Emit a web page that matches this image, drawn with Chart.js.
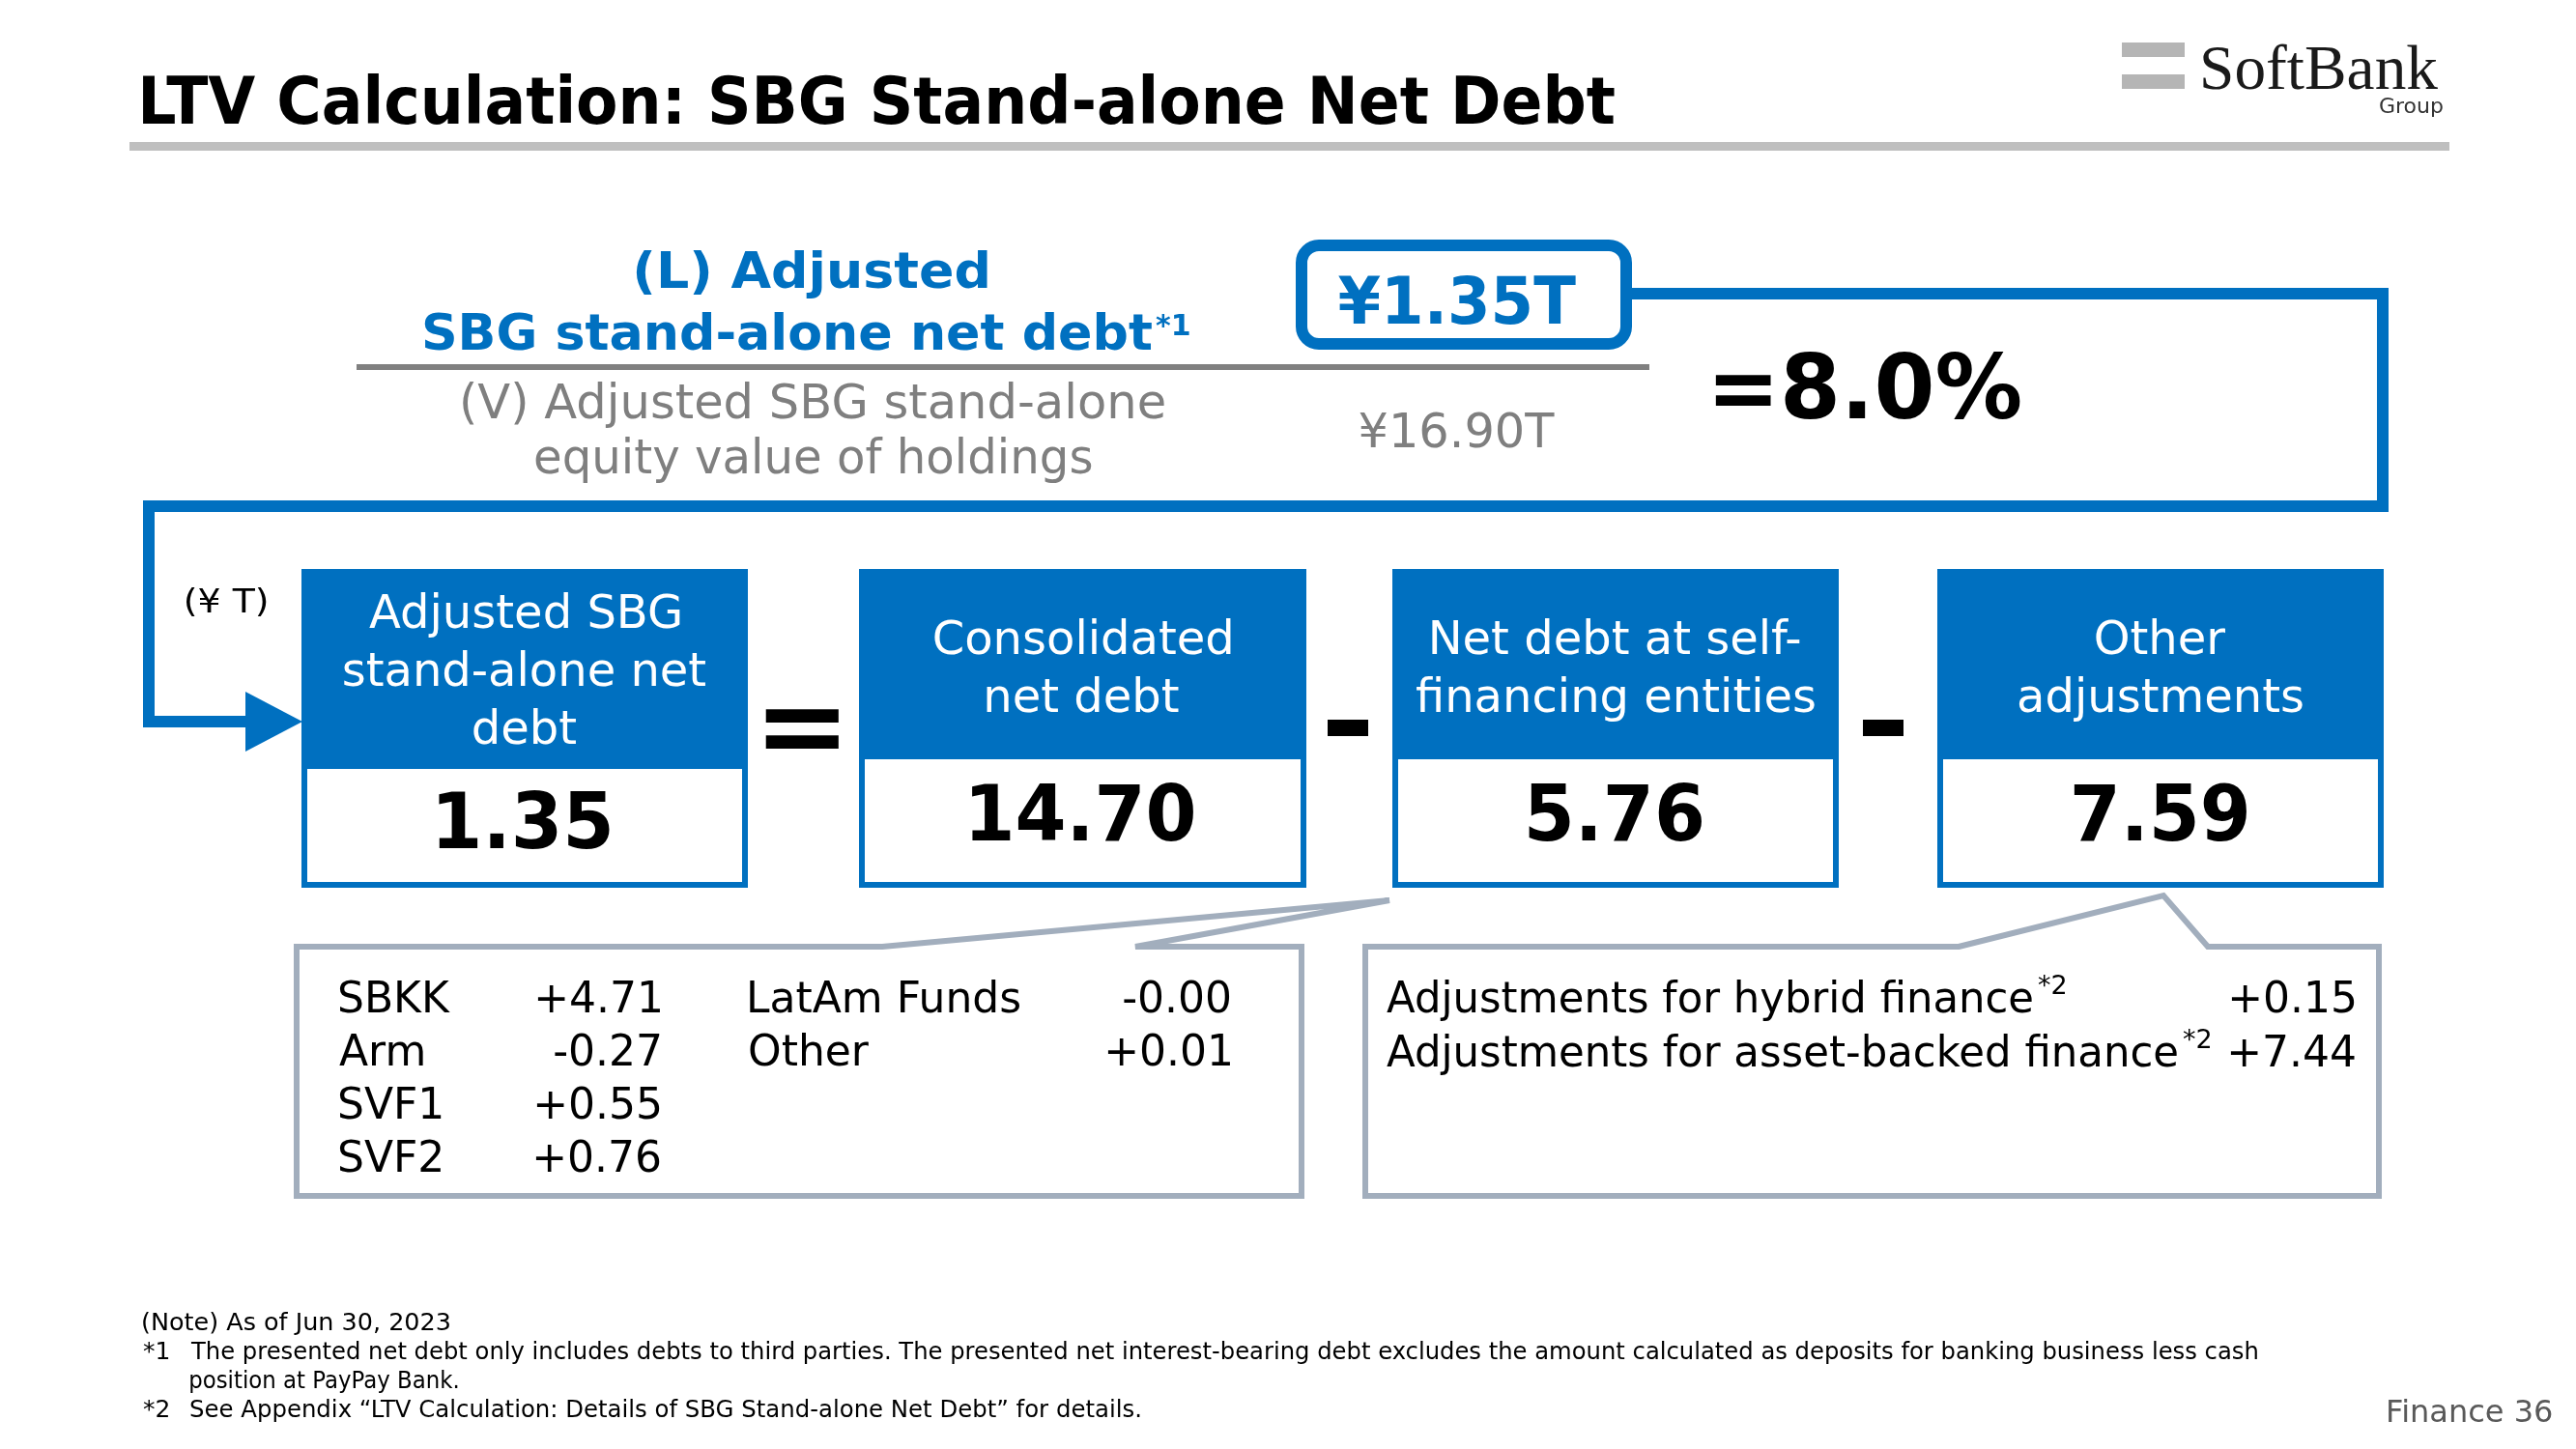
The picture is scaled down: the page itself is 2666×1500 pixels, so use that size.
<!DOCTYPE html>
<html>
<head>
<meta charset="utf-8">
<title>LTV Calculation: SBG Stand-alone Net Debt</title>
<script src="https://cdn.jsdelivr.net/npm/chart.js@4.4.1/dist/chart.umd.min.js"></script>
<style>
  html, body { margin: 0; padding: 0; background: #fff; }
  #wrap { width: 2666px; height: 1500px; }
</style>
</head>
<body>
<div id="wrap"><canvas id="slide"></canvas></div>
<script>
// ---- data ----
const boxTitles = [
  ['Adjusted SBG', 'stand-alone net', 'debt'],
  ['Consolidated', 'net debt'],
  ['Net debt at self-', 'financing entities'],
  ['Other', 'adjustments']
];
const boxValues = [1.35, 14.70, 5.76, 7.59];
const boxOperators = ['=', '-', '-'];

const ltvNumerator = 1.35;    // (L) ¥T
const ltvDenominator = 16.90; // (V) ¥T

const selfFinNames = ['SBKK', 'Arm', 'SVF1', 'SVF2', 'LatAm Funds', 'Other'];
const selfFinValues = [4.71, -0.27, 0.55, 0.76, -0.00, 0.01];

const otherAdjNames = ['Adjustments for hybrid finance', 'Adjustments for asset-backed finance'];
const otherAdjValues = [0.15, 7.44];

const footnotes = [
  '(Note) As of Jun 30, 2023',
  '*1',
  'The presented net debt only includes debts to third parties. The presented net interest-bearing debt excludes the amount calculated as deposits for banking business less cash',
  'position at PayPay Bank.',
  '*2',
  'See Appendix \u201cLTV Calculation: Details of SBG Stand-alone Net Debt\u201d for details.'
];

// ---- look ----
const FONT = '"DejaVu Sans", Verdana, sans-serif';
const BLUE = '#0070C0';
const GREY_TXT = '#7F7F7F';
const CALLOUT = '#A2AEBD';

// slide layout (slide units = page pixels)
const boxX = [[312, 774], [889, 1352], [1441, 1903], [2005, 2467]];
const boxTop = 589, boxBottom = 919;
const headBottom = [796, 786, 786, 786];
const titleBase = [[650, 710, 770], [677, 737], [677, 737], [677, 737]];
const valueBase = [878, 870, 870, 870];
const valueInk = [177, 229, 179, 179];
const opX = [830, 1395, 1949];

function fmt(v) {
  const neg = v < 0 || Object.is(v, -0);
  return (neg ? '-' : '+') + Math.abs(v).toFixed(2);
}

const slidePlugin = {
  id: 'slide',
  afterDraw(chart) {
    const ctx = chart.ctx;
    const sx = chart.scales.x, sy = chart.scales.y;
    const X = v => sx.getPixelForValue(v);
    const Y = v => sy.getPixelForValue(v);

    // draws text; left/right/cx place the ink box, w squeezes it to a width
    function T(s, o) {
      ctx.font = `${o.weight || 400} ${o.size}px ${o.family || FONT}`;
      ctx.textAlign = 'left';
      ctx.textBaseline = 'alphabetic';
      const m = ctx.measureText(s);
      const L = m.actualBoundingBoxLeft, R = m.actualBoundingBoxRight;
      const ink = L + R;
      const k = o.w ? o.w / ink : 1;
      let x0;
      if (o.left !== undefined) x0 = o.left;
      else if (o.right !== undefined) x0 = o.right - ink * k;
      else x0 = o.cx - ink * k / 2;
      let y = o.y;
      if (o.cy !== undefined) y = o.cy + (m.actualBoundingBoxAscent - m.actualBoundingBoxDescent) / 2;
      ctx.save();
      ctx.translate(X(x0), Y(y));
      ctx.scale(k, 1);
      ctx.fillStyle = o.color || '#000';
      ctx.fillText(s, L, 0);
      ctx.restore();
      return x0 + ink * k;
    }
    function rect(x1, y1, x2, y2, c) {
      ctx.fillStyle = c;
      ctx.fillRect(X(x1), Y(y1), X(x2) - X(x1), Y(y2) - Y(y1));
    }

    ctx.save();
    // title + rule
    T('LTV Calculation: SBG Stand-alone Net Debt', { left: 148, y: 128, size: 67, weight: 700, w: 1523 });
    rect(134, 147, 2535, 156, '#BFBFBF');

    // logo
    rect(2196, 44, 2261, 59, '#B5B5B5');
    rect(2196, 77, 2261, 92, '#B5B5B5');
    T('SoftBank', { left: 2280, y: 92, size: 66, family: '"Liberation Serif", serif', w: 243, color: '#1a1a1a' });
    T('Group', { left: 2463, y: 117, size: 22, color: '#333' });

    // fraction
    T('(L) Adjusted', { cx: 840, y: 298, size: 52, weight: 700, color: BLUE, w: 363 });
    T('SBG stand-alone net debt', { left: 439, y: 362, size: 52, weight: 700, color: BLUE, w: 753 });
    T('*1', { left: 1196, y: 347, size: 30, weight: 700, color: BLUE });
    rect(369, 377, 1707, 383, '#808080');
    T('(V) Adjusted SBG stand-alone', { cx: 842, y: 433, size: 49, color: GREY_TXT, w: 726 });
    T('equity value of holdings', { cx: 842, y: 490, size: 49, color: GREY_TXT, w: 576 });
    T('\u00a5' + ltvDenominator.toFixed(2) + 'T', { cx: 1508, y: 463, size: 49, color: GREY_TXT, w: 203 });

    // numerator box
    ctx.strokeStyle = BLUE;
    ctx.lineWidth = 12;
    ctx.beginPath();
    ctx.roundRect(X(1347), Y(254), X(1683) - X(1347), Y(356) - Y(254), 18);
    ctx.stroke();
    T('\u00a5' + ltvNumerator.toFixed(2) + 'T', { cx: 1508, y: 335, size: 68, weight: 700, color: BLUE, w: 247 });

    // connector + arrow
    ctx.lineWidth = 12;
    ctx.lineJoin = 'miter';
    ctx.beginPath();
    ctx.moveTo(X(1689), Y(304));
    ctx.lineTo(X(2466), Y(304));
    ctx.lineTo(X(2466), Y(524));
    ctx.lineTo(X(154), Y(524));
    ctx.lineTo(X(154), Y(747));
    ctx.lineTo(X(258), Y(747));
    ctx.stroke();
    ctx.fillStyle = BLUE;
    ctx.beginPath();
    ctx.moveTo(X(254), Y(716));
    ctx.lineTo(X(313), Y(747));
    ctx.lineTo(X(254), Y(778));
    ctx.closePath();
    ctx.fill();

    // LTV result
    const ltv = (ltvNumerator / ltvDenominator * 100).toFixed(1);
    T('=' + ltv + '%', { left: 1775, y: 433, size: 93, weight: 700, w: 316 });

    T('(\u00a5 T)', { left: 192, y: 634, size: 34, w: 84 });

    // boxes
    boxValues.forEach((v, i) => {
      const [x1, x2] = boxX[i];
      const cx = (x1 + x2) / 2;
      rect(x1, boxTop, x2, boxBottom, BLUE);
      rect(x1 + 6, headBottom[i], x2 - 6, boxBottom - 6, '#fff');
      boxTitles[i].forEach((line, j) => {
        T(line, { cx: cx, y: titleBase[i][j], size: 48, color: '#fff' });
      });
      T(v.toFixed(2), { cx: cx, y: valueBase[i], size: 80, weight: 700, w: valueInk[i] });
    });
    boxOperators.forEach((op, i) => {
      if (op === '=') T(op, { cx: opX[i], cy: 754, size: 120, weight: 700, w: 76 });
      else rect(opX[i] - 21, 745, opX[i] + 21, 762, '#000');
    });

    // callouts
    function callout(l, t, r, b, g1, ax, ay, g2) {
      ctx.strokeStyle = CALLOUT;
      ctx.lineWidth = 6;
      ctx.lineJoin = 'miter';
      ctx.beginPath();
      ctx.moveTo(X(g1), Y(t));
      ctx.lineTo(X(ax), Y(ay));
      ctx.lineTo(X(g2), Y(t));
      ctx.lineTo(X(r), Y(t));
      ctx.lineTo(X(r), Y(b));
      ctx.lineTo(X(l), Y(b));
      ctx.lineTo(X(l), Y(t));
      ctx.closePath();
      ctx.fillStyle = '#fff';
      ctx.fill();
      ctx.stroke();
    }
    callout(307, 980, 1347, 1238, 913, 1438, 932, 1175);
    callout(1413, 980, 2462, 1238, 2027, 2239, 927, 2285);

    const rowBase = [1048, 1103, 1158, 1213];
    selfFinNames.forEach((n, i) => {
      const col = i < 4 ? 0 : 1;
      const row = col === 0 ? i : i - 4;
      T(n, { left: col === 0 ? 351 : 776, y: rowBase[row], size: 44 });
      T(fmt(selfFinValues[i]), { right: col === 0 ? 683 : 1273, y: rowBase[row], size: 44 });
    });
    const nameInk = [668, 818];
    otherAdjNames.forEach((n, i) => {
      const yb = [1048, 1104][i];
      const end = T(n, { left: 1435, y: yb, size: 44, w: nameInk[i] });
      T('*2', { left: end + 6, y: yb - 19, size: 27 });
      T(fmt(otherAdjValues[i]), { right: 2437, y: yb, size: 44 });
    });

    // footnotes
    T(footnotes[0], { left: 148, y: 1377, size: 25, w: 317 });
    T(footnotes[1], { left: 148, y: 1407, size: 25 });
    T(footnotes[2], { left: 197, y: 1407, size: 25, w: 2139 });
    T(footnotes[3], { left: 197, y: 1437, size: 25, w: 277 });
    T(footnotes[4], { left: 148, y: 1467, size: 25 });
    T(footnotes[5], { left: 197, y: 1467, size: 25, w: 983 });

    T('Finance 36', { right: 2641, y: 1472, size: 32, color: '#595959' });
    ctx.restore();
  }
};

new Chart(document.getElementById('slide').getContext('2d'), {
  type: 'scatter',
  data: { datasets: [] },
  options: {
    responsive: true,
    maintainAspectRatio: false,
    animation: false,
    layout: { padding: 0 },
    plugins: { legend: { display: false }, tooltip: { enabled: false } },
    scales: {
      x: { type: 'linear', min: 0, max: 2666, display: false },
      y: { type: 'linear', min: 0, max: 1500, reverse: true, display: false }
    }
  },
  plugins: [slidePlugin]
});
</script>
</body>
</html>
